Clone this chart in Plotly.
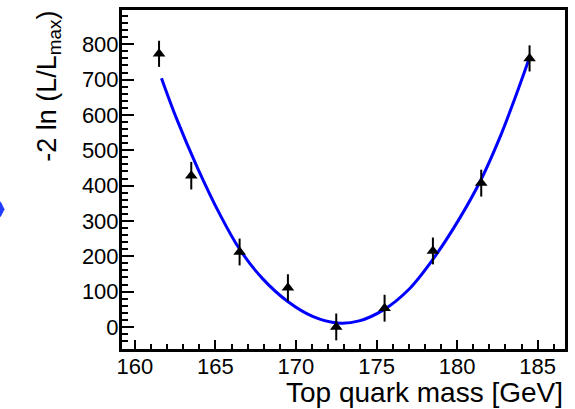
import plotly.graph_objects as go

# measured points
mass = [161.5, 163.5, 166.5, 169.5, 172.5, 175.5, 178.5, 181.5, 184.5]
nll = [773, 428, 212, 111, 0, 53, 215, 407, 760]
nll_err = [37, 39, 38, 38, 38, 38, 38, 38, 37]

# fitted curve
fit_mass = [161.65, 162.6, 163.9, 165.26, 166.5, 167.94, 169.49, 171.03, 172.6,
            173.92, 175.46, 177.0, 178.51, 180.1, 181.5, 182.6, 183.5, 184.44]
fit_nll = [704, 588, 449, 320, 220, 136, 72, 30, 11,
           17, 49, 106, 192, 303, 418, 530, 636, 755]

x_range = [159.2, 186.7]
y_range = [-62.5, 897]

W, H = 575, 409
L, R, T, B = 122, 8, 7, 60
PW, PH = W - L - R, H - T - B

def px(xp):
    return (xp - L) / PW

def py(yp):
    return (H - B - yp) / PH

FONT = "Liberation Sans, Arial, Helvetica, sans-serif"

fig = go.Figure()
fig.add_trace(go.Scatter(x=fit_mass, y=fit_nll, mode="lines",
                         line=dict(color="#0000ff", width=3, shape="spline", smoothing=1.0),
                         hoverinfo="skip", showlegend=False))
fig.add_trace(go.Scatter(x=mass, y=nll, mode="markers",
                         marker=dict(symbol="triangle-up", size=11, color="black"),
                         error_y=dict(type="data", array=nll_err, color="black",
                                      thickness=2, width=0),
                         showlegend=False))

axis_common = dict(showgrid=False, zeroline=False, showline=True, linecolor="black",
                   linewidth=3, mirror=True, ticks="inside", tickcolor="black",
                   tickwidth=2, tickfont=dict(family=FONT, size=22, color="black"))

fig.update_xaxes(range=x_range, tick0=160, dtick=5, ticklen=9, ticklabelstandoff=-4,
                 minor=dict(dtick=1, ticks="inside", ticklen=5, tickwidth=2, tickcolor="black"),
                 **axis_common)
fig.update_yaxes(range=y_range, tick0=0, dtick=100, ticklen=12, ticklabelstandoff=-4,
                 minor=dict(dtick=20, ticks="inside", ticklen=6, tickwidth=2, tickcolor="black"),
                 **axis_common)

fig.add_annotation(text="Top quark mass [GeV]", xref="paper", yref="paper",
                   x=1.0, y=py(393), xanchor="right", yanchor="middle",
                   showarrow=False, font=dict(family=FONT, size=28, color="black"))
fig.add_annotation(text="-2 ln (L/L<sub>max</sub>)", xref="paper", yref="paper",
                   x=px(48), y=py(6), xanchor="center", yanchor="top", textangle=-90,
                   showarrow=False, font=dict(family=FONT, size=27, color="black"))

# small blue diamond partially visible at left edge
cx, cy = px(0), py(208)
dx, dy = 4 / PW, 8 / PH
fig.add_shape(type="path", xref="paper", yref="paper",
              path=f"M {cx-dx} {cy} L {cx} {cy+dy} L {cx+dx} {cy} L {cx} {cy-dy} Z",
              fillcolor="#1f3cff", line=dict(width=0))

fig.update_layout(width=W, height=H, margin=dict(l=L, r=R, t=T, b=B),
                  paper_bgcolor="white", plot_bgcolor="white")

fig.write_html("out.html")
